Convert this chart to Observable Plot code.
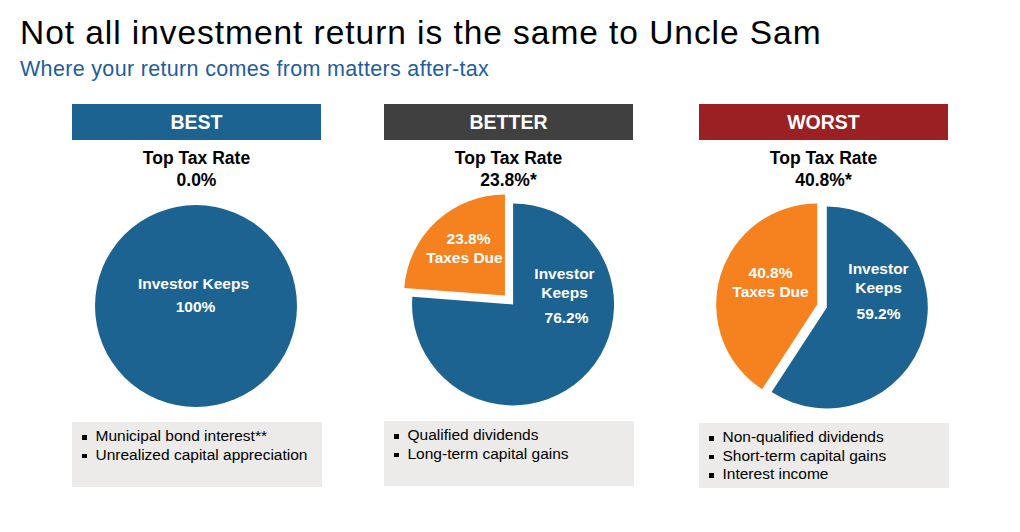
<!DOCTYPE html>
<html>
<head>
<meta charset="utf-8">
<script src="https://cdn.jsdelivr.net/npm/d3@7"></script>
<script src="https://cdn.jsdelivr.net/npm/@observablehq/plot@0.6"></script>
<style>
  html, body { margin: 0; padding: 0; background: #fff; }
  body { width: 1020px; height: 532px; position: relative; overflow: hidden;
         font-family: "Liberation Sans", Arial, sans-serif; }
  .abs { position: absolute; }
  .title { left: 20px; top: 16px; font-size: 33.5px; letter-spacing: 0.95px; line-height: 1; color: #000; white-space: nowrap; }
  .subtitle { left: 20px; top: 58.5px; font-size: 21.5px; letter-spacing: 0.33px; line-height: 1; color: #1E5E9B; white-space: nowrap; }
  .header { height: 36px; line-height: 36px; text-align: center; color: #fff; font-weight: bold; font-size: 19.5px; }
  .rate { text-align: center; font-weight: bold; font-size: 17.5px; line-height: 1; color: #000; }
  .box { background: #ECEBE9; box-sizing: border-box; padding-top: 5.3px; }
  .item { position: relative; padding-left: 23.5px; font-size: 15.5px; line-height: 18.6px; color: #000; white-space: nowrap; }
  .item::before { content: ""; position: absolute; left: 10px; top: 8px; width: 4.5px; height: 4.5px; background: #000; }
  .pie { position: absolute; }
</style>
</head>
<body>
<div class="abs title">Not all investment return is the same to Uncle Sam</div>
<div class="abs subtitle">Where your return comes from matters after-tax</div>
<div id="root"></div>
<script>
// ---- data ----
const panelNames = ["BEST", "BETTER", "WORST"];
const topTaxRates = ["0.0%", "23.8%*", "40.8%*"];
const investorKeeps = [100, 76.2, 59.2];
const taxesDue = [0, 23.8, 40.8];
const incomeTypes = [
  ["Municipal bond interest**", "Unrealized capital appreciation"],
  ["Qualified dividends", "Long-term capital gains"],
  ["Non-qualified dividends", "Short-term capital gains", "Interest income"]
];

// ---- style / layout ----
const headerColors = ["#1D6392", "#404040", "#9A2024"];
const sliceColors = {keeps: "#1D6392", taxes: "#F5821F"};
const R = 101;               // pie radius (px)
const panelLeft = [72, 384, 699];
const panelWidth = [249, 249, 249];
const headerTop = [103.5, 103.5, 104];
const boxTop = [422, 421, 423];
const pieCenter = [[196, 305.5], [508.5, 300], [821.7, 306]];
const explode = [0, 6, 5];
// label offsets from pie center in px: [dx, baselineDy]
const labelLayout = [
  {keeps: [[-3, -17.5], [-1, 5.5]], taxes: null},
  {keeps: [[55, -21], [55, -2], [57, 23]], taxes: [[-41, -56.5], [-45, -37.2]]},
  {keeps: [[56, -32], [56, -13.5], [56, 12.5]], taxes: [[-52, -28], [-52, -9]]}
];

const root = document.getElementById("root");
const fmt = v => (v === 100 ? "100" : v.toFixed(1)) + "%";

function pieMark(keeps, taxes, explodePx) {
  return (index, scales) => {
    const {x, y} = scales;
    const cx = x(0), cy = y(0);
    const r = x(1) - x(0);
    const data = [{k: "keeps", v: keeps}, {k: "taxes", v: taxes}];
    const arcs = d3.pie().sort(null).value(d => d.v)(data);
    const arc = d3.arc().innerRadius(0).outerRadius(r);
    const g = d3.create("svg:g");
    for (const a of arcs) {
      if (a.value <= 0) continue;
      const full = a.endAngle - a.startAngle >= 2 * Math.PI - 1e-6;
      const mid = (a.startAngle + a.endAngle) / 2;
      const ex = full ? 0 : explodePx;
      const ox = Math.sin(mid) * ex, oy = -Math.cos(mid) * ex;
      g.append("path")
        .attr("d", arc(a))
        .attr("transform", `translate(${cx + ox},${cy + oy})`)
        .attr("fill", sliceColors[a.data.k]);
    }
    return g.node();
  };
}

panelNames.forEach((name, i) => {
  const L = panelLeft[i], W = panelWidth[i];
  // header
  const h = document.createElement("div");
  h.className = "abs header";
  Object.assign(h.style, {left: L + "px", top: headerTop[i] + "px", width: W + "px", background: headerColors[i]});
  h.textContent = name;
  root.appendChild(h);
  // top tax rate
  const fs = 17.5;
  [["Top Tax Rate", 165], [topTaxRates[i], 187]].forEach(([t, base]) => {
    const d = document.createElement("div");
    d.className = "abs rate";
    Object.assign(d.style, {left: L + "px", width: W + "px", top: (base - 0.8465 * fs) + "px"});
    d.textContent = t;
    root.appendChild(d);
  });
  // box
  const b = document.createElement("div");
  b.className = "abs box";
  Object.assign(b.style, {left: L + "px", top: boxTop[i] + "px", width: (W + 1) + "px", height: "65px"});
  incomeTypes[i].forEach(t => {
    const it = document.createElement("div");
    it.className = "item";
    it.textContent = t;
    b.appendChild(it);
  });
  root.appendChild(b);

  // pie
  const [pcx, pcy] = pieCenter[i];
  const pw = 260, ph = 240;
  const labels = [];
  const lay = labelLayout[i];
  const keepTexts = i === 0 ? ["Investor Keeps", fmt(investorKeeps[i])] : ["Investor", "Keeps", fmt(investorKeeps[i])];
  keepTexts.forEach((t, j) => labels.push({text: t, x: lay.keeps[j][0] / R, y: -(lay.keeps[j][1] - 5) / R}));
  if (taxesDue[i] > 0) {
    [fmt(taxesDue[i]), "Taxes Due"].forEach((t, j) => labels.push({text: t, x: lay.taxes[j][0] / R, y: -(lay.taxes[j][1] - 5) / R}));
  }
  const chart = Plot.plot({
    width: pw, height: ph,
    margin: 0,
    x: {axis: null, domain: [-(pw / 2) / R, (pw / 2) / R]},
    y: {axis: null, domain: [-(ph / 2) / R, (ph / 2) / R]},
    style: {background: "transparent", overflow: "visible"},
    marks: [
      pieMark(investorKeeps[i], taxesDue[i], explode[i]),
      Plot.text(labels, {x: "x", y: "y", text: "text", fill: "#fff", fontWeight: "bold", fontSize: 15.5,
        fontFamily: "Liberation Sans, Arial, sans-serif"})
    ]
  });
  chart.classList.add("pie");
  chart.style.left = (pcx - pw / 2) + "px";
  chart.style.top = (pcy - ph / 2) + "px";
  root.appendChild(chart);
});
</script>
</body>
</html>
